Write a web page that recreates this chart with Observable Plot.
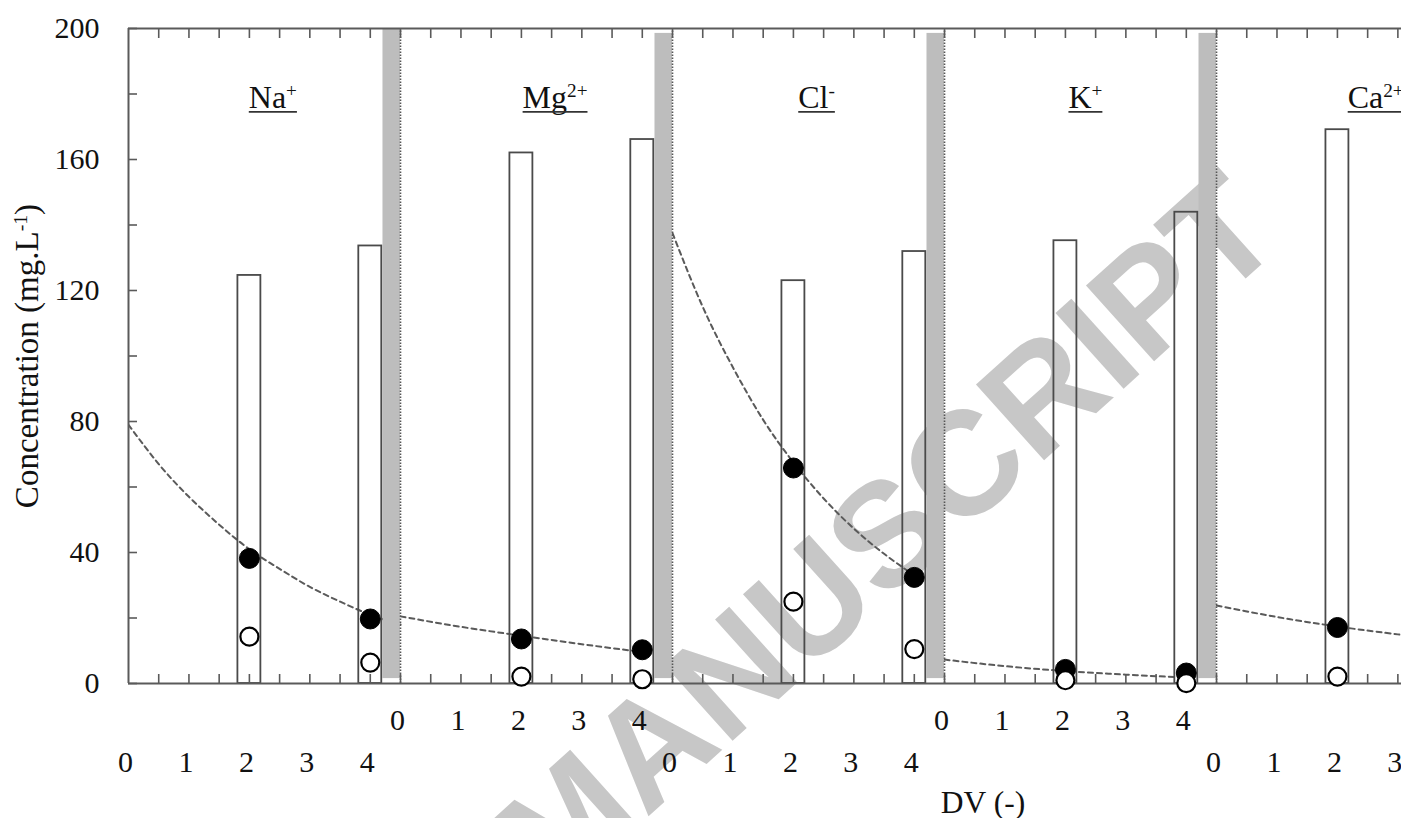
<!DOCTYPE html>
<html><head><meta charset="utf-8">
<script src="https://cdn.jsdelivr.net/npm/d3@7"></script>
<script src="https://cdn.jsdelivr.net/npm/@observablehq/plot@0.6"></script>
<style>html,body{margin:0;padding:0;background:#fff;} svg{display:block}</style>
</head><body><div id="chart"></div>
<script>
// ---------- data ----------
const ions = ["Na", "Mg", "Cl", "K", "Ca"];
const charges = ["+", "2+", "-", "+", "2+"];
const panelSpan = 4.5;            // DV covered by each ion panel
const sampleDV = [2, 4];
const feedConc   = [[124.6, 133.6], [162.0, 166.1], [123.0, 131.9], [135.2, 143.9], [169.1]];
const filledConc = [[38.2, 19.7], [13.6, 10.3], [65.8, 32.4], [4.3, 3.2], [17.1]];
const openConc   = [[14.3, 6.4], [2.1, 1.3], [25.0, 10.5], [1.0, 0.1], [2.1]];
const bandDV = [4.21, 4.5];
const bandTop = [200, 198.5, 198.5, 198.5];
const bandBottom = 1.5;
const naFitDV = [0, 0.5, 1, 1.5, 2, 2.5, 3, 3.5, 4, 4.5];
const naFit   = [79, 67, 57, 48.5, 41, 35, 29.5, 25, 21, 18];
const mgFitDV = [0, 1, 2, 3, 4];
const mgFit   = [20.5, 17.3, 14.6, 12.0, 9.6];
const clFitDV = [0, 0.5, 1, 1.5, 2, 2.5, 3, 3.5, 4];
const clFit   = [137.5, 115, 96.5, 80.5, 67.5, 56.5, 47.3, 39.6, 33];
const kFitDV  = [0, 1, 2, 3, 4];
const kFit    = [7.3, 5.3, 3.8, 2.7, 1.8];
const caFitDV = [0, 1, 2, 3, 3.5];
const caFit   = [23.8, 20.3, 17.4, 15.0, 14.0];
const xTickLabels = [0, 1, 2, 3, 4];
const yTicks = [0, 20, 40, 60, 80, 100, 120, 140, 160, 180, 200];
const yTickLabels = [0, 40, 80, 120, 160, 200];
const labelDV = [1.99, 2.02, 2.08, 2.05, 2.17];
const yTitle = ["Concentration (mg.L", "-1", ")"];
const xTitle = "DV (-)";
const watermark = "MANUSCRIPT";

// ---------- tables ----------
const fits = [[naFitDV, naFit], [mgFitDV, mgFit], [clFitDV, clFit], [kFitDV, kFit], [caFitDV, caFit]];
const bars = [], filled = [], open = [], fitPts = [], bands = [], tickLab = [], ionLab = [];
ions.forEach((ion, p) => {
  const off = p * panelSpan;
  feedConc[p].forEach((v, j) => bars.push({gx: off + sampleDV[j], v}));
  filledConc[p].forEach((v, j) => filled.push({gx: off + sampleDV[j], v}));
  openConc[p].forEach((v, j) => open.push({gx: off + sampleDV[j], v}));
  fits[p][0].forEach((t, j) => fitPts.push({ion, gx: off + t, v: fits[p][1][j]}));
  if (p < bandTop.length) bands.push({x1: off + bandDV[0], x2: off + bandDV[1], y1: bandBottom, y2: bandTop[p], edge: off + bandDV[1]});
  xTickLabels.forEach(t => tickLab.push({gx: off + t, t, row: p % 2}));
  ionLab.push({gx: off + labelDV[p], base: ion, charge: charges[p]});
});
const xTicks = d3.range(0.5, 21.01, 0.5);
const ink = "#4a4a4a";
const serif = "Liberation Serif, Times New Roman, serif";

const svg = Plot.plot({
  width: 1401, height: 818,
  marginLeft: 128, marginRight: 0, marginTop: 28, marginBottom: 135,
  x: {domain: [0, 21.06]},
  y: {domain: [0, 200]},
  style: {fontFamily: serif, fontSize: "30px", background: "#fff", color: "#111"},
  marks: [
    Plot.text([watermark], {text: d => d, frameAnchor: "middle", dx: 124, dy: 180, rotate: -42,
      fontSize: 148, fontWeight: "bold", fontFamily: "Liberation Sans, Arial, sans-serif", fill: "#c7c7c7"}),
    Plot.line(fitPts, {x: "gx", y: "v", z: "ion", curve: "natural", stroke: "#5a5a5a", strokeWidth: 2,
      strokeDasharray: "5,4", clip: true}),
    Plot.rect(bands, {x1: "x1", x2: "x2", y1: "y1", y2: "y2", fill: "#bdbdbd"}),
    Plot.ruleX(bands, {x: "edge", y1: 0, y2: 200, stroke: "#555", strokeWidth: 1.6, strokeDasharray: "1.5,1.5"}),
    Plot.rect(bars, {x1: d => d.gx - 0.19, x2: d => d.gx + 0.19, y1: 0, y2: "v", fill: "none", stroke: ink, strokeWidth: 1.8}),
    Plot.ruleY([0, 200], {stroke: "#5a5a5a", strokeWidth: 2}),
    Plot.ruleX([0], {stroke: "#5a5a5a", strokeWidth: 2}),
    Plot.axisY({ticks: yTicks, tickSize: 9, dx: 9, tickFormat: () => "", label: null, stroke: "#5a5a5a", strokeWidth: 1.6}),
    Plot.axisY({ticks: yTickLabels, tickSize: 0, tickPadding: 29, label: null, fontSize: 30, fill: "#111"}),
    Plot.axisX({anchor: "bottom", ticks: xTicks, tickSize: 9, dy: -9, tickFormat: () => "", label: null, stroke: "#5a5a5a", strokeWidth: 1.6}),
    Plot.axisX({anchor: "top", ticks: xTicks, tickSize: 9, dy: 9, tickFormat: () => "", label: null, stroke: "#5a5a5a", strokeWidth: 1.6}),
    Plot.dot(filled, {x: "gx", y: "v", r: 10, fill: "#000", stroke: "#000", strokeWidth: 1}),
    Plot.dot(open, {x: "gx", y: "v", r: 9, fill: "#fff", stroke: "#000", strokeWidth: 2.2}),
    Plot.text(tickLab.filter(d => d.row === 0), {x: "gx", text: "t", frameAnchor: "bottom", dy: 79, dx: -3, lineAnchor: "middle", fontSize: 30, fill: "#111"}),
    Plot.text(tickLab.filter(d => d.row === 1), {x: "gx", text: "t", frameAnchor: "bottom", dy: 37, dx: -3, lineAnchor: "middle", fontSize: 30, fill: "#111"}),
    Plot.text(ionLab, {x: "gx", text: d => d.base + d.charge, frameAnchor: "top", dy: 79, textAnchor: "start", lineAnchor: "bottom", fontSize: 32, fill: "#111"}),
    Plot.text([xTitle], {text: d => d, frameAnchor: "bottom", dx: 218, dy: 119, lineAnchor: "middle", fontSize: 31.5, fill: "#111"}),
    Plot.text([yTitle.join("")], {text: d => d, frameAnchor: "left", dx: -91, rotate: -90, textAnchor: "middle", lineAnchor: "bottom", fontSize: 33, fill: "#111"})
  ]
});
document.getElementById("chart").appendChild(svg);

// ---------- superscripts and underlines ----------
const NS = "http://www.w3.org/2000/svg";
function supify(el, parts, size) {
  el.textContent = "";
  let up = false;
  for (const [s, sup] of parts) {
    const t = document.createElementNS(NS, "tspan");
    t.textContent = s;
    if (sup) { t.setAttribute("font-size", (size * 0.6).toFixed(1)); if (!up) { t.setAttribute("dy", (-size * 0.32).toFixed(1)); up = true; } }
    else if (up) { t.setAttribute("dy", (size * 0.32).toFixed(1)); up = false; }
    el.appendChild(t);
  }
}
const ionMap = new Map(ionLab.map(d => [d.base + d.charge, d]));
d3.select(svg).selectAll("text").each(function() {
  const txt = this.textContent;
  if (ionMap.has(txt)) {
    const d = ionMap.get(txt);
    supify(this, [[d.base, false], [d.charge, true]], 32);
    const b = this.getBBox();
    const base = this.getStartPositionOfChar(0).y;
    const line = document.createElementNS(NS, "line");
    line.setAttribute("x1", b.x); line.setAttribute("x2", b.x + b.width);
    line.setAttribute("y1", base + 4.4); line.setAttribute("y2", base + 4.4);
    line.setAttribute("stroke", "#333"); line.setAttribute("stroke-width", "1.8");
    if (this.getAttribute("transform")) line.setAttribute("transform", this.getAttribute("transform"));
    this.parentNode.appendChild(line);
  } else if (txt === yTitle.join("")) {
    supify(this, [[yTitle[0], false], [yTitle[1], true], [yTitle[2], false]], 33);
  }
});
</script></body></html>
